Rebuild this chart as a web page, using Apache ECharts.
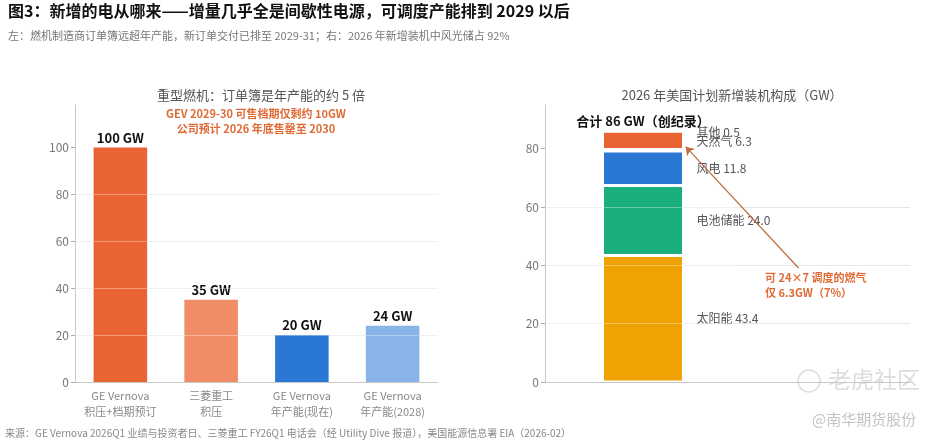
<!DOCTYPE html>
<html>
<head>
<meta charset="utf-8">
<script src="https://cdn.jsdelivr.net/npm/echarts@6/dist/echarts.min.js"></script>
<style>
  html, body { margin: 0; background: #fff; }
  #chart { width: 945px; height: 444px; }
</style>
</head>
<body>
<div id="chart"></div>
<script>
// left panel: heavy gas turbine backlog vs capacity (GW)
const leftCategories = ['GE Vernova\n积压+档期预订', '三菱重工\n积压', 'GE Vernova\n年产能(现在)', 'GE Vernova\n年产能(2028)'];
const leftValues = [100, 35, 20, 24];
const leftTicks = [0, 20, 40, 60, 80, 100];

// right panel: 2026 US planned additions (GW), stacked bottom -> top
const mixCategory = ['2026'];
const mixNames = ['太阳能', '电池储能', '风电', '其他', '天然气'];
const mixValues = [43.4, 24.0, 11.8, 0.5, 6.3];
const rightTicks = [0, 20, 40, 60, 80];

const leftColors = ['#EA6433', '#F08C66', '#2A78D4', '#88B4E8'];
const mixColors = ['#F0A202', '#1BAF7E', '#2A78D4', '#C9D6E6', '#EA6433'];
const mixLabelOffsets = [0, 0, 0, -18, 1];

const FONT = '"Noto Sans CJK SC", "Noto Sans", sans-serif';
const ORANGE_TXT = '#E06A35';
const total = mixValues.reduce((a, b) => a + b, 0);

const chart = echarts.init(document.getElementById('chart'));

const yAxisBase = {
  type: 'value',
  min: 0,
  axisLine: { show: true, onZero: false, lineStyle: { color: '#c8c8c8' } },
  axisTick: { show: true, length: 4, lineStyle: { color: '#aaa' } },
  axisLabel: { color: '#777', fontSize: 12, fontFamily: FONT, margin: 6 },
  splitLine: { show: true, showMaxLine: false, lineStyle: { color: '#e6e6e6', width: 1 } }
};

// faint gridlines drawn again on top of the bars, as in the source
function gridOverlay(ticks) {
  return {
    silent: true,
    symbol: 'none',
    label: { show: false },
    lineStyle: { color: 'rgba(255,255,255,0.35)', width: 1.2, type: 'solid' },
    data: ticks.filter(t => t > 0).map(t => ({ yAxis: t }))
  };
}

const mixSeries = mixNames.map((name, i) => ({
  name: name,
  type: 'bar',
  xAxisIndex: 2,
  yAxisIndex: 2,
  stack: 'mix',
  barWidth: 81,
  data: [mixValues[i]],
  itemStyle: { color: mixColors[i], borderColor: '#fff', borderWidth: 1.5 },
  label: {
    show: true,
    position: 'right',
    distance: 13,
    offset: [0, mixLabelOffsets[i]],
    formatter: () => name + ' ' + mixValues[i].toFixed(1),
    color: '#555',
    fontSize: 12,
    fontFamily: FONT
  },
  markLine: i === 0 ? gridOverlay(rightTicks) : undefined
}));

chart.setOption({
  backgroundColor: '#fff',
  animation: false,
  textStyle: { fontFamily: FONT },
  title: [
    { text: '重型燃机：订单簿是年产能的约 5 倍', left: 256, top: 84, textAlign: 'center',
      textStyle: { fontSize: 13, fontWeight: 'normal', color: '#555', fontFamily: FONT } },
    { text: '2026 年美国计划新增装机构成（GW）', left: 727, top: 84, textAlign: 'center',
      textStyle: { fontSize: 13, fontWeight: 'normal', color: '#555', fontFamily: FONT } }
  ],
  grid: [
    { left: 75, right: 507, top: 105, bottom: 62 },
    { left: 545, right: 35, top: 105, bottom: 62 },   // right panel frame: axes + gridlines
    { left: 545, right: 204, top: 105, bottom: 62 }   // right panel bar, centred at x=643
  ],
  xAxis: [
    {
      type: 'category', gridIndex: 0, data: leftCategories,
      axisLine: { lineStyle: { color: '#c8c8c8' } },
      axisTick: { alignWithLabel: true, length: 4, lineStyle: { color: '#aaa' } },
      axisLabel: { interval: 0, color: '#888', fontSize: 11, lineHeight: 16, margin: 6, fontFamily: FONT }
    },
    {
      type: 'value', gridIndex: 1, min: -0.75, max: 2.0,
      axisLine: { show: true, onZero: false, lineStyle: { color: '#c8c8c8' } },
      axisTick: { show: false }, axisLabel: { show: false }, splitLine: { show: false }
    },
    {
      type: 'category', gridIndex: 2, data: mixCategory, show: false
    }
  ],
  yAxis: [
    Object.assign({}, yAxisBase, {
      gridIndex: 0, max: 118, interval: 20,
      axisTick: Object.assign({}, yAxisBase.axisTick, { customValues: leftTicks }),
      axisLabel: Object.assign({}, yAxisBase.axisLabel, { customValues: leftTicks })
    }),
    Object.assign({}, yAxisBase, {
      gridIndex: 1, max: 95, interval: 20,
      axisTick: Object.assign({}, yAxisBase.axisTick, { customValues: rightTicks }),
      axisLabel: Object.assign({}, yAxisBase.axisLabel, { customValues: rightTicks })
    }),
    { type: 'value', gridIndex: 2, min: 0, max: 95, show: false, splitLine: { show: false } }
  ],
  series: [
    {
      type: 'bar',
      xAxisIndex: 0, yAxisIndex: 0,
      barWidth: '59%',
      data: leftValues.map((v, i) => ({ value: v, itemStyle: { color: leftColors[i] } })),
      label: {
        show: true, position: 'top', distance: 3,
        formatter: '{c} GW', color: '#111', fontSize: 13, fontWeight: 'bold', fontFamily: FONT
      },
      markLine: gridOverlay(leftTicks)
    }
  ].concat(mixSeries, [
    {
      name: '合计', type: 'bar', xAxisIndex: 2, yAxisIndex: 2, stack: 'mix', barWidth: 81,
      data: [0],
      itemStyle: { color: 'transparent', borderWidth: 0 },
      label: {
        show: true, position: 'top', distance: 4,
        formatter: () => '合计 ' + Math.round(total) + ' GW（创纪录）',
        color: '#111', fontSize: 13, fontWeight: 'bold', fontFamily: FONT
      }
    },
    {
      // arrow from the gas callout to the gas segment
      type: 'line', xAxisIndex: 1, yAxisIndex: 1, data: [], z: 12,
      markLine: {
        silent: true,
        symbol: ['none', 'arrow'],
        symbolSize: 8,
        label: { show: false },
        lineStyle: { color: '#C0693C', width: 1.2, type: 'solid' },
        data: [[{ coord: [1.16, 39.1] }, { coord: [0.31, 80.7] }]]
      }
    }
  ]),
  graphic: [
    { type: 'text', left: 8, top: 3,
      style: { text: '图3：新增的电从哪来——增量几乎全是间歇性电源，可调度产能排到 2029 以后',
        fontSize: 16, fontWeight: 'bold', fill: '#111', fontFamily: FONT } },
    { type: 'text', left: 8, top: 30,
      style: { text: '左：燃机制造商订单簿远超年产能，新订单交付已排至 2029-31；右：2026 年新增装机中风光储占 92%',
        fontSize: 11, fill: '#777', fontFamily: FONT } },
    { type: 'text', x: 256, y: 106,
      style: { text: 'GEV 2029-30 可售档期仅剩约 10GW\n公司预计 2026 年底售罄至 2030', align: 'center',
        fontSize: 11, fontWeight: 'bold', lineHeight: 15, fill: ORANGE_TXT, fontFamily: FONT } },
    { type: 'text', x: 765, y: 270,
      style: { text: '可 24×7 调度的燃气\n仅 6.3GW（7%）', align: 'left',
        fontSize: 11, fontWeight: 'bold', lineHeight: 15, fill: ORANGE_TXT, fontFamily: FONT } },
    { type: 'text', left: 5, top: 428,
      style: { text: '来源：GE Vernova 2026Q1 业绩与投资者日、三菱重工 FY26Q1 电话会（经 Utility Dive 报道），美国能源信息署 EIA（2026-02）',
        fontSize: 10, fill: '#888', fontFamily: FONT } },
    // repost watermarks
    { type: 'circle', shape: { cx: 809, cy: 381, r: 11 }, style: { fill: 'none', stroke: '#ddd', lineWidth: 1.5 } },
    { type: 'text', x: 828, y: 368,
      style: { text: '老虎社区', fontSize: 23, fill: '#ddd', fontFamily: FONT } },
    { type: 'text', x: 812, y: 412,
      style: { text: '@南华期货股份', fontSize: 15, fill: '#c4c4c4', fontFamily: FONT } }
  ]
});
</script>
</body>
</html>
